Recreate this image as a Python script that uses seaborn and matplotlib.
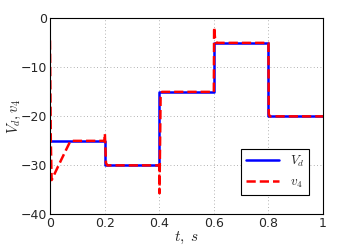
import numpy as np
import pandas as pd
import seaborn as sns
import matplotlib
matplotlib.use('Agg')
import matplotlib.pyplot as plt

# desired voltage (step reference)
t_vd = [0.0, 0.2, 0.2, 0.4, 0.4, 0.6, 0.6, 0.8, 0.8, 1.0]
vd = [-25, -25, -30, -30, -15, -15, -5, -5, -20, -20]

# response v4
t_v4 = [0.0, 0.003, 0.006, 0.04, 0.075, 0.2, 0.201, 0.205, 0.21, 0.4, 0.401, 0.405, 0.41,
        0.6, 0.601, 0.605, 0.61, 0.8, 0.801, 0.805, 1.0]
v4 = [-4.5, -25, -33, -29, -25, -25, -23.5, -29.5, -30, -30, -35.7, -16, -15,
      -15, -1.8, -4.5, -5, -5, -19.5, -20, -20]

sns.set_style('white')
plt.rcParams['font.family'] = ['DejaVu Sans']
plt.rcParams['mathtext.fontset'] = 'cm'

fig, ax = plt.subplots(figsize=(3.57, 2.45), dpi=100)
df_vd = pd.DataFrame({'t': t_vd, 'v': vd})
df_v4 = pd.DataFrame({'t': t_v4, 'v': v4})
sns.lineplot(data=df_vd, x='t', y='v', ax=ax, color='#0000ff', lw=1.8, label='$V_d$',
             sort=False, estimator=None)
sns.lineplot(data=df_v4, x='t', y='v', ax=ax, color='#ff0000', lw=1.8, ls='--',
             label='$v_4$', sort=False, estimator=None)

ax.set_xlim(0, 1)
ax.set_ylim(-40, 0)
ax.set_xticks([0, 0.2, 0.4, 0.6, 0.8, 1])
ax.set_xticklabels(['0', '0.2', '0.4', '0.6', '0.8', '1'])
ax.set_yticks([-40, -30, -20, -10, 0])
ax.grid(True, ls=(0, (1, 3)), color='#999999', lw=0.6)
for s in ax.spines.values():
    s.set_color('black')
    s.set_linewidth(0.8)
ax.tick_params(labelsize=9, direction='in', length=3, pad=2)
ax.set_xlabel('$t,\\ s$', fontsize=11, labelpad=0)
ax.set_ylabel('$V_d,v_4$', fontsize=10.5)
ax.yaxis.set_label_coords(-0.1, 0.5)
leg = ax.legend(loc='lower right', fontsize=9.5, fancybox=False, edgecolor='black',
                framealpha=1, handlelength=2.5, borderaxespad=0,
                bbox_to_anchor=(0.95, 0.097))
leg.get_frame().set_linewidth(0.8)

fig.subplots_adjust(left=0.14, right=0.905, top=0.925, bottom=0.125)
fig.savefig('out.png', dpi=100)
